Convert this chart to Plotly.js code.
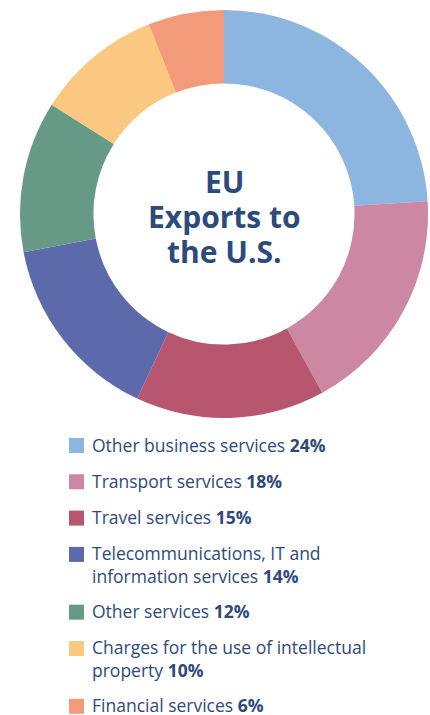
<!DOCTYPE html>
<html>
<head>
<meta charset="utf-8">
<script src="https://cdn.plot.ly/plotly-3.0.1.min.js"></script>
<style>
html,body{margin:0;padding:0;background:#fff;}
#chart{width:430px;height:715px;}
</style>
</head>
<body>
<div id="chart"></div>
<script>
// ---- data ----
const categories = [
  "Other business services",
  "Transport services",
  "Travel services",
  "Telecommunications, IT and<br>information services",
  "Other services",
  "Charges for the use of intellectual<br>property",
  "Financial services"
];
// slice sizes as read from the drawn ring
const values = [24, 18, 15, 15, 12, 10, 6];
// percentages printed in the legend
const percentLabels = ["24%", "18%", "15%", "14%", "12%", "10%", "6%"];
const colors = ["#8cb6e0", "#cc87a2", "#b8556f", "#5c69aa", "#669a87", "#fac880", "#f39a7a"];
const centerTitleLines = ["EU", "Exports to", "the U.S."];

// ---- layout helpers ----
const W = 430, H = 715;
const textColor = "#2e4a7b";
const py = p => 1 - p / H;
const px = p => p / W;
const FONT = "'Open Sans', 'Noto Sans', sans-serif";

const annotations = [];
centerTitleLines.forEach((t, i) => {
  annotations.push({
    text: "<b>" + t + "</b>",
    x: px(224), y: py(182 + 34.5 * i), xref: "paper", yref: "paper",
    showarrow: false, xanchor: "center", yanchor: "middle", align: "center",
    borderpad: 0,
    font: {family: FONT, size: 30, color: "#2c4a7c", weight: 800}
  });
});
const shapes = [];

let rowY = 444.5;
categories.forEach((c, i) => {
  const lines = c.split("<br>").length;
  annotations.push({
    text: c + " <b>" + percentLabels[i] + "</b>",
    x: px(91), y: py(rowY + 22 * (lines - 1) / 2), xref: "paper", yref: "paper",
    showarrow: false, xanchor: "left", yanchor: "middle", align: "left",
    borderpad: 0,
    font: {family: FONT, size: 17.5, color: textColor}
  });
  shapes.push({
    type: "rect", xref: "paper", yref: "paper",
    x0: px(69), x1: px(84), y0: py(rowY + 8.5), y1: py(rowY - 6.5),
    fillcolor: colors[i], line: {width: 0}
  });
  rowY += 36.3 + 21.5 * (lines - 1);
});

const trace = {
  type: "pie",
  labels: categories,
  values: values,
  marker: {colors: colors, line: {width: 0}},
  hole: 0.64,
  sort: false,
  direction: "clockwise",
  rotation: 0,
  textinfo: "none",
  hoverinfo: "none",
  showlegend: false,
  domain: {x: [px(20), px(428)], y: [py(418), py(10)]}
};

const layout = {
  width: W, height: H,
  margin: {l: 0, r: 0, t: 0, b: 0},
  paper_bgcolor: "#ffffff",
  showlegend: false,
  annotations: annotations,
  shapes: shapes
};

Plotly.newPlot("chart", [trace], layout, {displayModeBar: false, staticPlot: true});
</script>
</body>
</html>
